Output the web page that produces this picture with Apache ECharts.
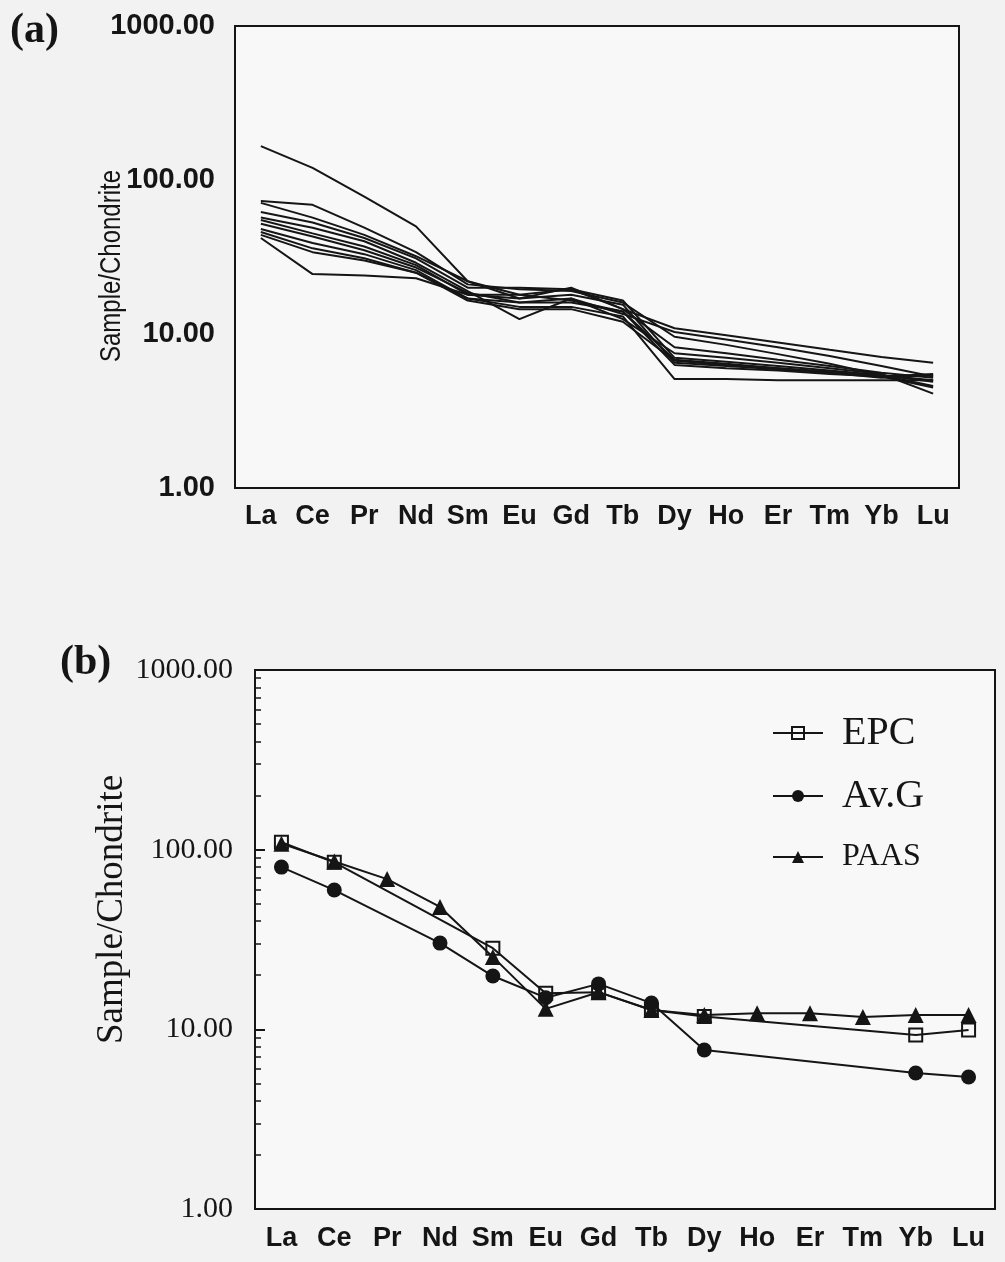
<!DOCTYPE html>
<html><head><meta charset="utf-8">
<script src="https://cdn.jsdelivr.net/npm/echarts@6/dist/echarts.min.js"></script>
<style>html,body{margin:0;padding:0;background:#f2f2f2}#c{width:1005px;height:1262px}</style>
</head><body><div id="c"></div>
<script>
// REE categories
const elements = ['La','Ce','Pr','Nd','Sm','Eu','Gd','Tb','Dy','Ho','Er','Tm','Yb','Lu'];
// Panel (a): individual samples, chondrite-normalised
const s01 = [166,120,78,50,22,18,19.5,14.5,10.9,9.8,8.8,7.9,7.1,6.5];
const s02 = [73,69,49,34,21,19.5,19,16,9.6,8.5,7.4,6.4,5.4,4.6];
const s03 = [71,57,44,32,22,17,20,14.5,8.2,7.5,6.8,6.2,5.6,5.2];
const s04 = [62,53,42,31,20,20,19.5,16.5,7.0,6.6,6.2,5.8,5.4,5.0];
const s05 = [57,49,40,29,19,12.5,17,13.5,10.3,9.2,8.2,7.2,6.2,5.3];
const s06 = [55,45,37,28,18,17,18,15.5,6.5,6.2,5.9,5.6,5.3,4.5];
const s07 = [52,43,35,27,18.5,16,16,14,6.3,6.0,5.8,5.5,5.3,5.5];
const s08 = [48,39,33,26,17,15,15,13,5.1,5.1,5.0,5.0,5.0,5.0];
const s09 = [46,36,31,25,17,16,17,12.5,7.5,7.0,6.5,6.0,5.5,4.1];
const s10 = [42,24.5,24,23,18,18,16.5,14,6.8,6.4,6.0,5.6,5.2,5.4];
const s11 = [44,34,30,25,16.5,14.5,14.5,12,6.7,6.3,6.0,5.7,5.4,4.9];
// Panel (b): averages
const epc  = [110,85,null,null,28.3,15.9,16.1,12.8,11.8,null,null,null,9.3,9.9];
const avg  = [80,59.6,null,30.2,19.8,15.0,17.9,14.0,7.67,null,null,null,5.71,5.43];
const paas = [108,86,68.6,48,25.3,13.0,16.1,12.8,12.0,12.3,12.3,11.7,12.0,12.0];
// axis tick values
const yMinorTicks = [2,3,4,5,6,7,8,9,20,30,40,50,60,70,80,90,200,300,400,500,600,700,800,900];
const panelLabels = ['(a)','(b)'];
const yName = 'Sample/Chondrite';

const ink = '#151515';
const sans = 'Liberation Sans';
const serif = 'Liberation Serif';
const samples = [s01,s02,s03,s04,s05,s06,s07,s08,s09,s10,s11];

const chart = echarts.init(document.getElementById('c'), null, {renderer:'canvas'});

const seriesA = samples.map((d,i)=>({
  name:'s'+(i+1), type:'line', xAxisIndex:0, yAxisIndex:0, data:d,
  symbol:'none', lineStyle:{color:ink, width:2}, silent:true
}));

const mk = (name, data, symbol, fill, size) => ({
  name, type:'line', xAxisIndex:1, yAxisIndex:1, data, connectNulls:true,
  symbol, symbolSize:size, showAllSymbol:true,
  lineStyle:{color:ink, width:2},
  itemStyle:{color:fill, borderColor:ink, borderWidth: symbol==='rect'?2:0}
});

const legendBase = (name, top, fs) => ({
  data:[name], left:772, top, orient:'horizontal', padding:0,
  itemWidth:50, itemHeight:15, selectedMode:false,
  textStyle:{fontFamily:serif, fontSize:fs, color:ink, padding:[0,0,0,14]}
});

chart.setOption({
  animation:false,
  backgroundColor:'#f2f2f2',
  grid:[
    {left:235, top:26, width:724, height:462, show:true, borderColor:ink, borderWidth:2, backgroundColor:'#f8f8f8'},
    {left:255, top:670, width:740, height:539, show:true, borderColor:ink, borderWidth:2, backgroundColor:'#f8f8f8'}
  ],
  legend:[
    legendBase('EPC', 713, 40),
    legendBase('Av.G', 776, 40),
    legendBase('PAAS', 841, 32)
  ],
  graphic:[
    {type:'text', left:10, top:10, style:{text:panelLabels[0], font:'bold 42px "Liberation Serif"', fill:ink}},
    {type:'text', left:60, top:642, style:{text:panelLabels[1], font:'bold 42px "Liberation Serif"', fill:ink}},
    {type:'text', x:112, y:266, rotation:Math.PI/2, scaleX:0.8,
     style:{text:yName, font:'30px "Liberation Sans"', fill:ink, align:'center', verticalAlign:'middle'}}
  ],
  xAxis:[
    {type:'category', gridIndex:0, data:elements, boundaryGap:true,
     axisLine:{lineStyle:{color:ink, width:2}},
     axisTick:{alignWithLabel:true, length:9, lineStyle:{color:ink, width:2}, interval:(i)=>i!==0},
     axisLabel:{color:ink, fontFamily:sans, fontWeight:'bold', fontSize:27, margin:15, interval:0},
     splitLine:{show:false}},
    {type:'category', gridIndex:1, data:elements, boundaryGap:true,
     axisLine:{lineStyle:{color:ink, width:2}},
     axisTick:{alignWithLabel:true, length:9, lineStyle:{color:ink, width:2}},
     axisLabel:{color:ink, fontFamily:sans, fontWeight:'bold', fontSize:27, margin:16, interval:0},
     splitLine:{show:false}}
  ],
  yAxis:[
    {type:'log', gridIndex:0, logBase:10, min:1, max:1000,
     axisLine:{show:true, lineStyle:{color:ink, width:2}},
     axisTick:{show:false},
     axisLabel:{color:ink, fontFamily:sans, fontWeight:'bold', fontSize:29, margin:20, formatter:(v)=>v.toFixed(2)},
     splitLine:{show:false}},
    {type:'log', gridIndex:1, logBase:10, min:1, max:1000,
     name:yName, nameLocation:'middle', nameGap:124, nameRotate:90, nameMoveOverlap:false,
     nameTextStyle:{fontFamily:serif, fontSize:37, color:ink, padding:[0,0,0,60]},
     axisLine:{show:true, lineStyle:{color:ink, width:2}},
     axisTick:{show:true, inside:true, length:10, lineStyle:{color:ink, width:2}},
     axisLabel:{color:ink, fontFamily:serif, fontSize:30, margin:22, formatter:(v)=>v.toFixed(2)},
     splitLine:{show:false}},
    {type:'log', gridIndex:1, logBase:10, min:1, max:1000, position:'left',
     axisLine:{show:false}, axisLabel:{show:false}, splitLine:{show:false},
     axisTick:{show:true, inside:true, length:6, customValues:yMinorTicks, lineStyle:{color:ink, width:1.5}}}
  ],
  series:[
    ...seriesA,
    mk('Av.G', avg, 'circle', ink, 15),
    mk('PAAS', paas, 'triangle', ink, 16),
    mk('EPC', epc, 'rect', 'rgba(255,255,255,0)', 13)
  ]
});
</script></body></html>
